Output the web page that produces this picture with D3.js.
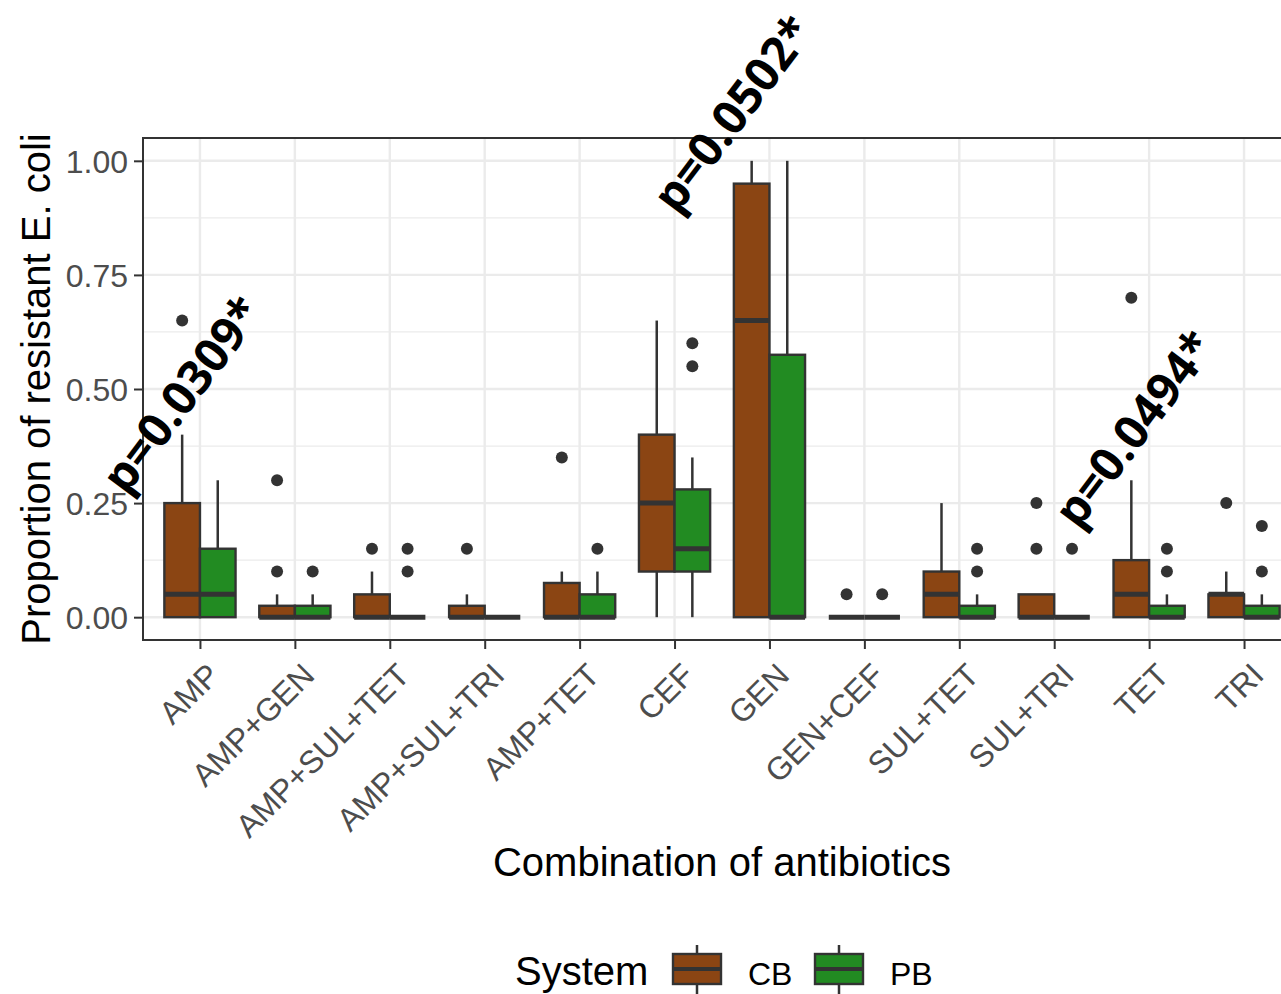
<!DOCTYPE html>
<html>
<head>
<meta charset="utf-8">
<script src="https://cdn.jsdelivr.net/npm/d3@7"></script>
<style>
  body { margin: 0; background: #fff; }
  svg { display: block; font-family: "Liberation Sans", Arial, sans-serif; }
  .grid line { stroke: #EBEBEB; }
  .axis .domain { display: none; }
  .axis line { stroke: #333333; stroke-width: 2px; }
  .axis text { fill: #4D4D4D; font-size: 32px; font-family: "Liberation Sans", Arial, sans-serif; }
</style>
</head>
<body>
<svg width="1281" height="994"></svg>
<script>
const categories = ["AMP", "AMP+GEN", "AMP+SUL+TET", "AMP+SUL+TRI", "AMP+TET", "CEF",
  "GEN", "GEN+CEF", "SUL+TET", "SUL+TRI", "TET", "TRI"];
const systems = ["CB", "PB"];
const systemColors = ["#8B4513", "#228B22"];

// CB box stats per category
const cbQ1  = [0, 0, 0, 0, 0, 0.10, 0, 0, 0, 0, 0, 0];
const cbMed = [0.05, 0, 0, 0, 0, 0.25, 0.65, 0, 0.05, 0, 0.05, 0.05];
const cbQ3  = [0.25, 0.025, 0.05, 0.025, 0.075, 0.40, 0.95, 0, 0.10, 0.05, 0.125, 0.05];
const cbLo  = [0, 0, 0, 0, 0, 0, 0, 0, 0, 0, 0, 0];
const cbHi  = [0.40, 0.05, 0.10, 0.05, 0.10, 0.65, 1.00, 0, 0.25, 0.05, 0.30, 0.10];
const cbOut = [[0.65], [0.10, 0.30], [0.15], [0.15], [0.35], [], [], [0.05], [], [0.15, 0.25], [0.70], [0.25]];

// PB box stats per category
const pbQ1  = [0, 0, 0, 0, 0, 0.10, 0, 0, 0, 0, 0, 0];
const pbMed = [0.05, 0, 0, 0, 0, 0.15, 0, 0, 0, 0, 0, 0];
const pbQ3  = [0.15, 0.025, 0, 0, 0.05, 0.28, 0.575, 0, 0.025, 0, 0.025, 0.025];
const pbLo  = [0, 0, 0, 0, 0, 0, 0, 0, 0, 0, 0, 0];
const pbHi  = [0.30, 0.05, 0, 0, 0.10, 0.35, 1.00, 0, 0.05, 0, 0.05, 0.05];
const pbOut = [[], [0.10], [0.10, 0.15], [], [0.15], [0.55, 0.60], [], [0.05], [0.10, 0.15], [0.15], [0.10, 0.15], [0.10, 0.20]];

const yTicks = [0, 0.25, 0.5, 0.75, 1.0];
const yMinor = [0.125, 0.375, 0.625, 0.875];

const annoText = ["p=0.0309*", "p=0.0502*", "p=0.0494*"];
const annoCat  = ["AMP", "GEN", "TET"];
const annoVal  = [0.49, 1.105, 0.415];

const svg = d3.select("svg");
const panel = { left: 143, right: 1301, top: 138, bottom: 640 };

const x = d3.scalePoint().domain(categories).range([panel.left, panel.right]).padding(0.6);
const y = d3.scaleLinear().domain([-0.05, 1.05]).range([panel.bottom, panel.top]);
const step = x.step();
const boxW = step * 0.375;

const boxes = [];
categories.forEach((c, i) => {
  boxes.push({ cat: c, sys: 0, q1: cbQ1[i], med: cbMed[i], q3: cbQ3[i], lo: cbLo[i], hi: cbHi[i], out: cbOut[i] });
  boxes.push({ cat: c, sys: 1, q1: pbQ1[i], med: pbMed[i], q3: pbQ3[i], lo: pbLo[i], hi: pbHi[i], out: pbOut[i] });
});
const bx = d => x(d.cat) + (d.sys === 0 ? -boxW : 0);
const bc = d => bx(d) + boxW / 2;

// grid
const grid = svg.append("g").attr("class", "grid");
grid.selectAll(".minor").data(yMinor).enter().append("line")
  .attr("x1", panel.left).attr("x2", panel.right)
  .attr("y1", d => y(d)).attr("y2", d => y(d))
  .attr("stroke-width", 1.2).attr("stroke", "#F2F2F2");
grid.selectAll(".major").data(yTicks).enter().append("line")
  .attr("x1", panel.left).attr("x2", panel.right)
  .attr("y1", d => y(d)).attr("y2", d => y(d))
  .attr("stroke-width", 2.4);
grid.selectAll(".vert").data(categories).enter().append("line")
  .attr("x1", d => x(d)).attr("x2", d => x(d))
  .attr("y1", panel.top).attr("y2", panel.bottom)
  .attr("stroke-width", 2.4);

const g = svg.append("g");

// whiskers
g.selectAll(".wh-up").data(boxes).enter().append("line")
  .attr("x1", bc).attr("x2", bc)
  .attr("y1", d => y(d.q3)).attr("y2", d => y(d.hi))
  .attr("stroke", "#333333").attr("stroke-width", 2.5);
g.selectAll(".wh-dn").data(boxes).enter().append("line")
  .attr("x1", bc).attr("x2", bc)
  .attr("y1", d => y(d.q1)).attr("y2", d => y(d.lo))
  .attr("stroke", "#333333").attr("stroke-width", 2.5);

// boxes
g.selectAll(".box").data(boxes).enter().append("rect")
  .attr("x", bx).attr("width", boxW)
  .attr("y", d => y(d.q3)).attr("height", d => y(d.q1) - y(d.q3))
  .attr("fill", d => systemColors[d.sys])
  .attr("stroke", "#333333").attr("stroke-width", 2.4);

// medians
g.selectAll(".median").data(boxes).enter().append("line")
  .attr("x1", bx).attr("x2", d => bx(d) + boxW)
  .attr("y1", d => y(d.med)).attr("y2", d => y(d.med))
  .attr("stroke", "#333333").attr("stroke-width", 5);

// outliers
const outs = [];
boxes.forEach(b => b.out.forEach(v => outs.push({ b, v })));
g.selectAll(".out").data(outs).enter().append("circle")
  .attr("cx", d => bc(d.b)).attr("cy", d => y(d.v)).attr("r", 6)
  .attr("fill", "#333333");

// panel border
svg.append("rect")
  .attr("x", panel.left).attr("y", panel.top)
  .attr("width", panel.right - panel.left).attr("height", panel.bottom - panel.top)
  .attr("fill", "none").attr("stroke", "#333333").attr("stroke-width", 2);

// axes
svg.append("g").attr("class", "axis")
  .attr("transform", `translate(${panel.left},0)`)
  .call(d3.axisLeft(y).tickValues(yTicks).tickFormat(d3.format(".2f")).tickSize(9).tickPadding(6))
  .selectAll("text").attr("dy", "0.36em");

const xa = svg.append("g").attr("class", "axis")
  .attr("transform", `translate(0,${panel.bottom})`)
  .call(d3.axisBottom(x).tickSize(9).tickPadding(0));
xa.selectAll("text")
  .attr("text-anchor", "end")
  .attr("transform", "translate(5,21) rotate(-45)")
  .attr("y", 0).attr("dy", "0.71em");

// axis titles
svg.append("text")
  .attr("x", (panel.left + panel.right) / 2).attr("y", 876)
  .attr("text-anchor", "middle").attr("font-size", 40).attr("fill", "#000")
  .text("Combination of antibiotics");
svg.append("text")
  .attr("transform", `translate(50,${(panel.top + panel.bottom) / 2}) rotate(-90)`)
  .attr("text-anchor", "middle").attr("font-size", 40).attr("fill", "#000")
  .text("Proportion of resistant E. coli");

// legend
const leg = svg.append("g");
leg.append("text").attr("x", 515).attr("y", 985).attr("font-size", 40).text("System");
const keyX = [673, 815];
systems.forEach((s, i) => {
  const k = leg.append("g").attr("transform", `translate(${keyX[i]},0)`);
  k.append("line").attr("x1", 24).attr("x2", 24).attr("y1", 945).attr("y2", 994)
    .attr("stroke", "#333333").attr("stroke-width", 2.5);
  k.append("rect").attr("x", 0).attr("y", 954).attr("width", 48).attr("height", 30)
    .attr("fill", systemColors[i]).attr("stroke", "#333333").attr("stroke-width", 2.4);
  k.append("line").attr("x1", 0).attr("x2", 48).attr("y1", 969).attr("y2", 969)
    .attr("stroke", "#333333").attr("stroke-width", 4);
  k.append("text").attr("x", 75).attr("y", 985).attr("font-size", 32).text(s);
});

// p-value annotations
const annoDx = [-19, -38, -16];
annoText.forEach((t, i) => {
  const cx = x(annoCat[i]) + annoDx[i], cy = y(annoVal[i]);
  svg.append("text")
    .attr("transform", `translate(${cx},${cy}) rotate(-53)`)
    .attr("text-anchor", "middle").attr("dominant-baseline", "central")
    .attr("font-family", "'Open Sans', Lato, sans-serif").attr("font-weight", 700)
    .attr("font-size", 47).attr("fill", "#000")
    .text(t);
});
</script>
</body>
</html>
